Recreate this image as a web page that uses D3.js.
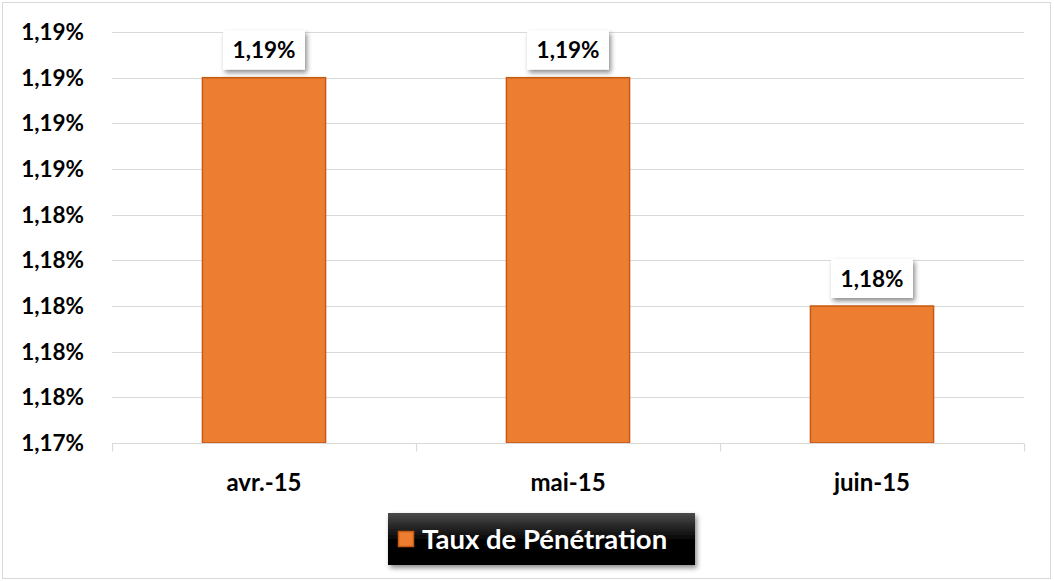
<!DOCTYPE html>
<html>
<head>
<meta charset="utf-8">
<script src="https://cdn.jsdelivr.net/npm/d3@7"></script>
<style>
  body{margin:0;background:#fff;}
  svg text{font-family:Lato,"Open Sans",sans-serif;font-weight:700;}
</style>
</head>
<body>
<svg id="chart" width="1054" height="581"></svg>
<script>
// data
var months=["avr.-15","mai-15","juin-15"];
var taux=[1.19,1.19,1.18];
var tickVals=[1.174,1.176,1.178,1.180,1.182,1.184,1.186,1.188,1.190,1.192];
var seriesName="Taux de Pénétration";

var svg=d3.select("#chart");
var margin={top:32,left:112,right:30,bottom:138};
var W=1054,H=581;
var fmt=function(v){return d3.format(".2f")(v).replace(".",",")+"%";};

// outer frame
svg.append("rect").attr("x",2.5).attr("y",2.5).attr("width",W-6).attr("height",H-5)
	.attr("fill","#fff").attr("stroke","#d9d9d9");

var defs=svg.append("defs");
var sh=defs.append("filter").attr("id","shadow").attr("x","-20%").attr("y","-20%").attr("width","150%").attr("height","160%");
sh.append("feDropShadow").attr("dx",2).attr("dy",3).attr("stdDeviation",2.5).attr("flood-color","#000").attr("flood-opacity",0.45);
var grad=defs.append("linearGradient").attr("id","legGrad").attr("x1","0").attr("y1","0").attr("x2","0").attr("y2","1");
grad.append("stop").attr("offset","0%").attr("stop-color","#4a4a4a");
grad.append("stop").attr("offset","55%").attr("stop-color","#000");
grad.append("stop").attr("offset","100%").attr("stop-color","#000");

var x=d3.scaleBand().domain(months).range([margin.left,W-margin.right]).padding(0);
var y=d3.scaleLinear().domain([tickVals[0],tickVals[tickVals.length-1]]).range([H-margin.bottom,margin.top]);
var barW=x.bandwidth()*0.405;

// gridlines
svg.append("g").selectAll("line").data(tickVals.slice(1)).join("line")
	.attr("x1",margin.left).attr("x2",W-margin.right)
	.attr("y1",function(d){return Math.round(y(d))+0.5;}).attr("y2",function(d){return Math.round(y(d))+0.5;})
	.attr("stroke","#d9d9d9").attr("stroke-width",1.2);

// y labels
svg.append("g").selectAll("text").data(tickVals).join("text")
	.attr("x",84).attr("y",function(d){return y(d);}).attr("dy","0.36em")
	.attr("text-anchor","end").attr("font-size",22.5).attr("font-weight",900).attr("fill","#000")
	.text(fmt);

// bars
svg.append("g").selectAll("rect").data(taux).join("rect")
	.attr("x",function(d,i){return x(months[i])+(x.bandwidth()-barW)/2;})
	.attr("y",function(d){return y(d);})
	.attr("width",barW)
	.attr("height",function(d){return y(tickVals[0])-y(d);})
	.attr("fill","#ed7d31").attr("stroke","#c55a11").attr("stroke-width",1.5);

// x axis line and ticks
var gx=svg.append("g").attr("transform","translate(0,"+(Math.round(y(tickVals[0]))+0.5)+")");
gx.append("line").attr("x1",margin.left).attr("x2",W-margin.right).attr("stroke","#d9d9d9").attr("stroke-width",1.2);
var bounds=months.map(function(m){return x(m);}).concat([W-margin.right]);
gx.selectAll(".tk").data(bounds).join("line").attr("class","tk")
	.attr("x1",function(d){return d+0.5;}).attr("x2",function(d){return d+0.5;})
	.attr("y1",0).attr("y2",8).attr("stroke","#d9d9d9").attr("stroke-width",1.2);
gx.selectAll(".lab").data(months).join("text").attr("class","lab")
	.attr("x",function(d){return x(d)+x.bandwidth()/2;}).attr("y",47)
	.attr("text-anchor","middle").attr("font-size",24).attr("font-weight",900).attr("fill","#000")
	.text(function(d){return d;});

// data labels
var lab=svg.append("g").selectAll("g").data(taux).join("g")
	.attr("transform",function(d,i){return "translate("+(x(months[i])+x.bandwidth()/2)+","+(y(d)-8)+")";});
lab.append("rect").attr("x",-41).attr("y",-39).attr("width",82).attr("height",39)
	.attr("fill","#fff").attr("filter","url(#shadow)");
lab.append("text").attr("x",0).attr("y",-19.5).attr("dy","0.36em").attr("text-anchor","middle")
	.attr("font-size",22.5).attr("font-weight",900).attr("fill","#000").text(fmt);

// legend
var leg=svg.append("g").attr("transform","translate(388,513)");
leg.append("rect").attr("width",307).attr("height",52).attr("fill","url(#legGrad)").attr("filter","url(#shadow)");
leg.append("rect").attr("x",10.5).attr("y",18.5).attr("width",15).attr("height",15)
	.attr("fill","#ed7d31").attr("stroke","#c55a11").attr("stroke-width",1.5);
leg.append("text").attr("x",34).attr("y",26).attr("dy","0.36em").attr("font-size",27.5).attr("font-weight",900).attr("fill","#fff").text(seriesName);
</script>
</body>
</html>
